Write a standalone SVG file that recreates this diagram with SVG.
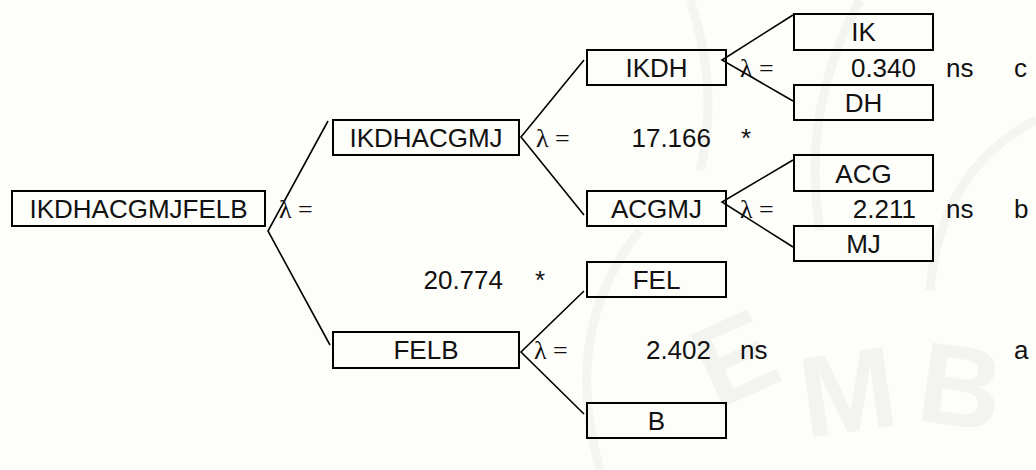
<svg xmlns="http://www.w3.org/2000/svg" width="1036" height="470" viewBox="0 0 1036 470">
  <style>
    .box { fill: none; stroke: #000; stroke-width: 2; }
    .lbl { font-family: "Liberation Sans", Arial, sans-serif; font-size: 26px; fill: #111; text-anchor: middle; }
    .num { font-family: "Liberation Sans", Arial, sans-serif; font-size: 26px; fill: #111; }
    .end { text-anchor: end; }
    .lam { font-family: "Liberation Serif", "Times New Roman", serif; font-size: 26px; fill: #111; }
    .edge { fill: none; stroke: #000; stroke-width: 1.6; }
    .wm { font-family: "Liberation Sans", Arial, sans-serif; font-weight: bold; font-size: 115px; fill: #f3f3f0; }
  </style>

  <rect width="1036" height="470" fill="#fdfdfa"/>

  <!-- faint background emblem -->
  <g id="emblem" fill="none" stroke="#f4f4f1" stroke-width="9">
    <path d="M600 470 Q560 330 640 230"/>
    <path d="M690 0 Q720 90 700 170"/>
    <path d="M860 0 Q800 110 820 230"/>
    <path d="M1036 120 Q940 170 930 290"/>
  </g>
  <g id="emblem-text">
    <text class="wm" transform="translate(716 410) rotate(-24)">E</text>
    <text class="wm" transform="translate(806 438) rotate(-8)">M</text>
    <text class="wm" transform="translate(914 420) rotate(8)">B</text>
  </g>

  <!-- connectors -->
  <g id="connectors">
    <polyline class="edge" points="328,121 268,231 330,345"/>
    <polyline class="edge" points="584,60 521,137 584,215"/>
    <polyline class="edge" points="584,291 521,352 584,414"/>
    <polyline class="edge" points="793,15 722,60 793,101"/>
    <polyline class="edge" points="793,160 722,202 793,247"/>
  </g>

  <!-- nodes -->
  <g id="n-IKDHACGMJFELB">
    <rect class="box" x="12" y="191" width="253" height="35"/>
    <text class="lbl" x="138.5" y="218">IKDHACGMJFELB</text>
  </g>
  <g id="n-IKDHACGMJ">
    <rect class="box" x="333" y="120" width="186" height="35"/>
    <text class="lbl" x="426" y="147">IKDHACGMJ</text>
  </g>
  <g id="n-FELB">
    <rect class="box" x="333" y="332" width="186" height="36"/>
    <text class="lbl" x="426" y="359">FELB</text>
  </g>
  <g id="n-IKDH">
    <rect class="box" x="587" y="50" width="139" height="35"/>
    <text class="lbl" x="656.5" y="77">IKDH</text>
  </g>
  <g id="n-ACGMJ">
    <rect class="box" x="587" y="191" width="139" height="35"/>
    <text class="lbl" x="656.5" y="218">ACGMJ</text>
  </g>
  <g id="n-FEL">
    <rect class="box" x="587" y="262" width="139" height="35"/>
    <text class="lbl" x="656.5" y="289">FEL</text>
  </g>
  <g id="n-B">
    <rect class="box" x="587" y="403" width="139" height="35"/>
    <text class="lbl" x="656.5" y="430">B</text>
  </g>
  <g id="n-IK">
    <rect class="box" x="794" y="14" width="139" height="36"/>
    <text class="lbl" x="863.5" y="41">IK</text>
  </g>
  <g id="n-DH">
    <rect class="box" x="794" y="85" width="139" height="35"/>
    <text class="lbl" x="863.5" y="112">DH</text>
  </g>
  <g id="n-ACG">
    <rect class="box" x="794" y="155" width="139" height="36"/>
    <text class="lbl" x="863.5" y="183">ACG</text>
  </g>
  <g id="n-MJ">
    <rect class="box" x="794" y="226" width="139" height="35"/>
    <text class="lbl" x="863.5" y="253">MJ</text>
  </g>

  <!-- split statistics -->
  <g id="stats">
    <text class="lam" x="279" y="218">λ =</text>
    <text class="num end" x="503" y="289">20.774</text>
    <text class="num" x="535" y="289">*</text>

    <text class="lam" x="536" y="147">λ =</text>
    <text class="num end" x="711" y="147">17.166</text>
    <text class="num" x="741" y="147">*</text>

    <text class="lam" x="534" y="359">λ =</text>
    <text class="num end" x="711" y="359">2.402</text>
    <text class="num" x="740" y="359">ns</text>
    <text class="num" x="1014" y="359">a</text>

    <text class="lam" x="740" y="77">λ =</text>
    <text class="num end" x="916" y="77">0.340</text>
    <text class="num" x="946" y="77">ns</text>
    <text class="num" x="1014" y="77">c</text>

    <text class="lam" x="740" y="218">λ =</text>
    <text class="num end" x="916" y="218">2.211</text>
    <text class="num" x="946" y="218">ns</text>
    <text class="num" x="1014" y="218">b</text>
  </g>
</svg>
